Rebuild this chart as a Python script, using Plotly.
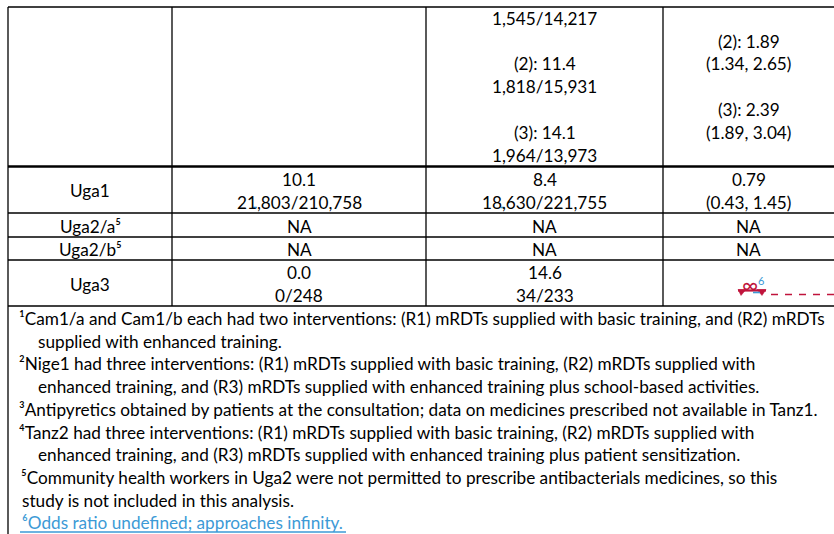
import plotly.graph_objects as go

# ---------------- data (table content) ----------------
row_labels = ["", "Uga1", "Uga2/a\u2075", "Uga2/b\u2075", "Uga3"]
col2_lines = [
    [],
    ["10.1", "21,803/210,758"],
    ["NA"],
    ["NA"],
    ["0.0", "0/248"],
]
col3_lines = [
    ["1,545/14,217", "", "(2): 11.4", "1,818/15,931", "", "(3): 14.1", "1,964/13,973"],
    ["8.4", "18,630/221,755"],
    ["NA"],
    ["NA"],
    ["14.6", "34/233"],
]
col4_lines = [
    ["", "(2): 1.89", "(1.34, 2.65)", "", "(3): 2.39", "(1.89, 3.04)", ""],
    ["0.79", "(0.43, 1.45)"],
    ["NA"],
    ["NA"],
    [],
]
infinity_label = "\u221e"
infinity_note = "6"

footnotes = [
    ("\u00b9Cam1/a and Cam1/b each had two interventions: (R1) mRDTs supplied with basic training, and (R2) mRDTs", 0),
    ("supplied with enhanced training.", 1),
    ("\u00b2Nige1 had three interventions: (R1) mRDTs supplied with basic training, (R2) mRDTs supplied with", 0),
    ("enhanced training, and (R3) mRDTs supplied with enhanced training plus school-based activities.", 1),
    ("\u00b3Antipyretics obtained by patients at the consultation; data on medicines prescribed not available in Tanz1.", 0),
    ("\u2074Tanz2 had three interventions: (R1) mRDTs supplied with basic training, (R2) mRDTs supplied with", 0),
    ("enhanced training, and (R3) mRDTs supplied with enhanced training plus patient sensitization.", 1),
    ("\u2075Community health workers in Uga2 were not permitted to prescribe antibacterials medicines, so this", 2),
    ("study is not included in this analysis.", 3),
    ("\u2076Odds ratio undefined; approaches infinity.", 4),
]

# ---------------- layout constants ----------------
W, H = 834, 534
FONT = "Lato, Noto Sans, DejaVu Sans"
FS = 17.2
TXT = "#000000"
RED = "#c0143c"
BLUE = "#3c9ad6"

col_edges = [8, 172, 426, 663, 834]
row_edges = [7, 166.5, 213, 237, 260, 306]
pitch = 22.8
foot_x = [17, 36, 19, 20, 20]
foot_y0 = 318.5
foot_pitch = 22.7

fig = go.Figure()
fig.add_trace(go.Scatter(x=[0], y=[0], mode="markers", marker=dict(opacity=0),
                         hoverinfo="skip", showlegend=False))

shapes = []
def hline(y, x0, x1, w=1.3):
    shapes.append(dict(type="line", xref="x", yref="y", x0=x0, x1=x1, y0=y, y1=y,
                       line=dict(color="black", width=w)))
def vline(x, y0, y1, w=1.3):
    shapes.append(dict(type="line", xref="x", yref="y", x0=x, x1=x, y0=y0, y1=y1,
                       line=dict(color="black", width=w)))

for i, y in enumerate(row_edges):
    hline(y, col_edges[0], W, 2.6 if i == 1 else 1.3)
vline(col_edges[0], row_edges[0], H)
for x in col_edges[1:4]:
    vline(x, row_edges[0], row_edges[-1])

ann = []
def text(x, y, s, anchor="center", color=TXT, size=FS):
    ann.append(dict(x=x, y=y, xref="x", yref="y", text=s, showarrow=False,
                    xanchor=anchor, yanchor="middle",
                    font=dict(family=FONT, size=size, color=color)))

def cell_lines(col, r, lines):
    if not lines:
        return
    cx = (col_edges[col] + col_edges[col + 1]) / 2
    top, bot = row_edges[r], row_edges[r + 1]
    n = len(lines)
    if r == 0:
        ylast = bot - 11.5
        ys = [ylast - (n - 1 - k) * pitch for k in range(n)]
    else:
        c = (top + bot) / 2 + 1
        ys = [c + (k - (n - 1) / 2) * pitch for k in range(n)]
    for s, y in zip(lines, ys):
        if s:
            text(cx, y, s)

for r, lab in enumerate(row_labels):
    if lab:
        cell_lines(0, r, [lab])
for r in range(len(row_labels)):
    cell_lines(1, r, col2_lines[r])
    cell_lines(2, r, col3_lines[r])
    cell_lines(3, r, col4_lines[r])

# tiny blue track marks under the thousands commas
shapes.append(dict(type="line", xref="x", yref="y", x0=253, x1=257, y0=207.5, y1=207.5,
                   line=dict(color=BLUE, width=1.6)))
shapes.append(dict(type="line", xref="x", yref="y", x0=500.5, x1=504.5, y0=207.5, y1=207.5,
                   line=dict(color=BLUE, width=1.6)))

# infinity mark (Uga3, last column)
text(749.5, 284, infinity_label, color=RED, size=22)
text(760.5, 280, infinity_note, color=BLUE, size=11)
shapes.append(dict(type="line", xref="x", yref="y", x0=738, x1=766, y0=290.5, y1=290.5,
                   line=dict(color=RED, width=2.2)))
shapes.append(dict(type="path", xref="x", yref="y", path="M 738 289.5 L 746 289.5 L 741 295.5 Z",
                   fillcolor=RED, line=dict(color=RED, width=0.5)))
shapes.append(dict(type="path", xref="x", yref="y", path="M 757 289.5 L 766 289.5 L 762 295.5 Z",
                   fillcolor=RED, line=dict(color=RED, width=0.5)))
shapes.append(dict(type="line", xref="x", yref="y", x0=753, x1=760, y0=292.5, y1=292.5,
                   line=dict(color=BLUE, width=1.6)))
shapes.append(dict(type="line", xref="x", yref="y", x0=771, x1=834, y0=294.5, y1=294.5,
                   line=dict(color=RED, width=1.3, dash="7px,7px")))

# footnotes
for k, (s, ind) in enumerate(footnotes):
    y = foot_y0 + k * foot_pitch
    col = BLUE if k == len(footnotes) - 1 else TXT
    text(foot_x[ind], y, s, anchor="left", color=col)
shapes.append(dict(type="line", xref="x", yref="y", x0=20, x1=346, y0=532, y1=532,
                   line=dict(color=BLUE, width=1.3)))

fig.update_layout(
    width=W, height=H, margin=dict(l=0, r=0, t=0, b=0),
    paper_bgcolor="white", plot_bgcolor="white",
    xaxis=dict(range=[0, W], visible=False, fixedrange=True),
    yaxis=dict(range=[H, 0], visible=False, fixedrange=True),
    shapes=shapes, annotations=ann, showlegend=False,
)

fig.write_html("out.html", config={"displayModeBar": False},
               post_script="document.body.style.margin='0';")
